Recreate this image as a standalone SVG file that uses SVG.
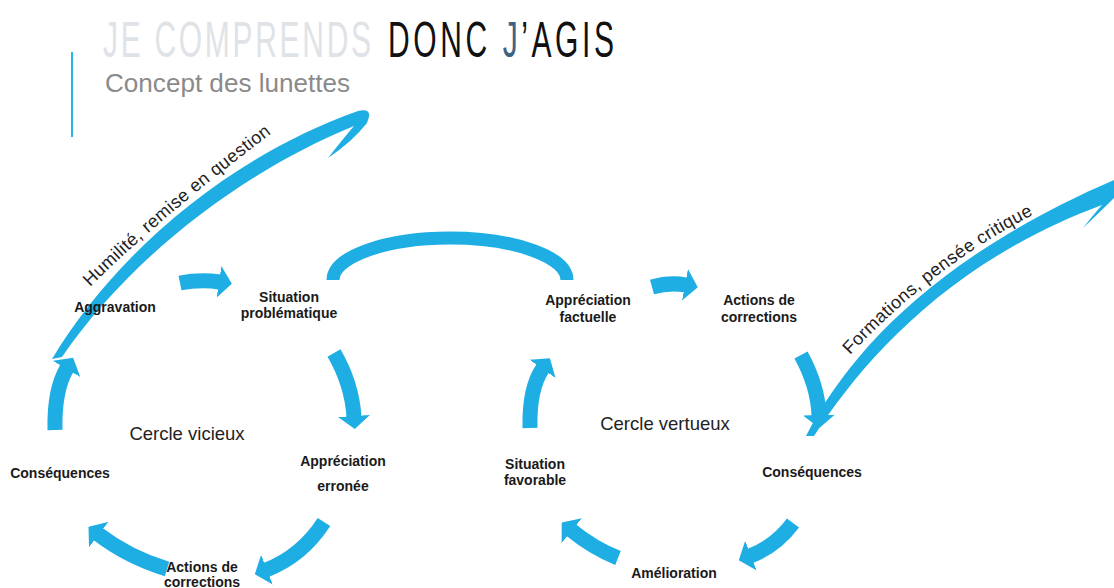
<svg xmlns="http://www.w3.org/2000/svg" width="1114" height="588" viewBox="0 0 1114 588">
<defs>
<marker id="head" viewBox="0 0 13 32" refX="1" refY="16" markerWidth="13" markerHeight="32" markerUnits="userSpaceOnUse" orient="auto"><path d="M0,0 L13,16 L0,32 Z" fill="#1eaee3"/></marker>
<path id="p1" d="M90 287 Q162 216 272 133"/>
<path id="p2" d="M850 355 Q937 263 1035 214"/>
</defs>
<style>
.arr{fill:none;stroke:#1eaee3;stroke-width:15;marker-end:url(#head)}
.arch{fill:none;stroke:#1eaee3;stroke-width:13}
.band{fill:#1eaee3}
.lbl{font-family:"Liberation Sans",Arial,sans-serif;font-weight:bold;font-size:14px;fill:#1a1a1a;text-anchor:middle}
.circ{font-family:"Liberation Sans",Arial,sans-serif;font-size:18.5px;fill:#222;text-anchor:middle}
.sw{font-family:"Liberation Sans",Arial,sans-serif;font-size:18px;fill:#222}
.ttl{font-family:"Liberation Sans",Arial,sans-serif;font-size:30px}
</style>
<rect width="1114" height="588" fill="#ffffff"/>
<g id="header">
<line x1="72" y1="52" x2="72" y2="137" stroke="#29b6ef" stroke-width="2"/>
<text class="ttl" transform="translate(0,57) scale(1,1.67)" x="103" y="0" fill="#dfe3e7" letter-spacing="2.7">JE COMPRENDS</text>
<text class="ttl" transform="translate(0,57) scale(1,1.67)" x="388" y="0" fill="#111111" letter-spacing="3.6">DONC <tspan fill="#3d6285">J</tspan>’AGIS</text>
<text x="105" y="92" font-family="Liberation Sans, Arial, sans-serif" font-size="26.5" fill="#8a8a8a" textLength="245" lengthAdjust="spacingAndGlyphs">Concept des lunettes</text>
</g>
<g id="connectors">
<path class="band" d="M52 359 C110 262 220 160 358 111 Q374 107 367 123 Q352 142 328 158 Q342 140 354 126 C232 176 124 266 62 357 Z"/>
<path class="band" d="M806 436 C850 350 940 255 1114 180 L1114 198 Q1100 212 1083 228 Q1094 214 1102 205 C948 262 862 362 814 436 Z"/>
<path class="arch" d="M333 280 A117 42 0 0 1 567 280"/>
<path class="arr" d="M180 283 Q200 279 220 282"/>
<path class="arr" d="M334 353 Q352 384 354 417"/>
<path class="arr" d="M324 522 Q302 556 266 570"/>
<path class="arr" d="M167 569 Q128 557 98 534"/>
<path class="arr" d="M55 430 Q54 390 67 368"/>
<path class="arr" d="M652 287 Q670 282 686 285"/>
<path class="arr" d="M801 355 Q818 386 819 416"/>
<path class="arr" d="M793 523 Q776 546 750 556"/>
<path class="arr" d="M618 558 Q593 548 571 530"/>
<path class="arr" d="M530 428 Q529 388 543 368"/>
<text class="sw"><textPath href="#p1" textLength="238" lengthAdjust="spacing">Humilité, remise en question</textPath></text>
<text class="sw"><textPath href="#p2" textLength="232" lengthAdjust="spacing">Formations, pensée critique</textPath></text>
</g>
<g id="node-aggravation"><text class="lbl" x="115" y="312">Aggravation</text></g>
<g id="node-situation-problematique"><text class="lbl" x="289" y="302">Situation</text><text class="lbl" x="289" y="318">problématique</text></g>
<g id="node-appreciation-factuelle"><text class="lbl" x="588" y="305">Appréciation</text><text class="lbl" x="588" y="322">factuelle</text></g>
<g id="node-actions-corrections-top"><text class="lbl" x="759" y="305">Actions de</text><text class="lbl" x="759" y="322">corrections</text></g>
<g id="node-consequences-left"><text class="lbl" x="60" y="478">Conséquences</text></g>
<g id="node-appreciation-erronee"><text class="lbl" x="343" y="466">Appréciation</text><text class="lbl" x="343" y="491">erronée</text></g>
<g id="node-actions-corrections-bottom"><text class="lbl" x="202" y="572">Actions de</text><text class="lbl" x="202" y="587">corrections</text></g>
<g id="node-situation-favorable"><text class="lbl" x="535" y="469">Situation</text><text class="lbl" x="535" y="485">favorable</text></g>
<g id="node-consequences-right"><text class="lbl" x="812" y="477">Conséquences</text></g>
<g id="node-amelioration"><text class="lbl" x="674" y="578">Amélioration</text></g>
<g id="label-cercle-vicieux"><text class="circ" x="187" y="440">Cercle vicieux</text></g>
<g id="label-cercle-vertueux"><text class="circ" x="665" y="430">Cercle vertueux</text></g>
</svg>
